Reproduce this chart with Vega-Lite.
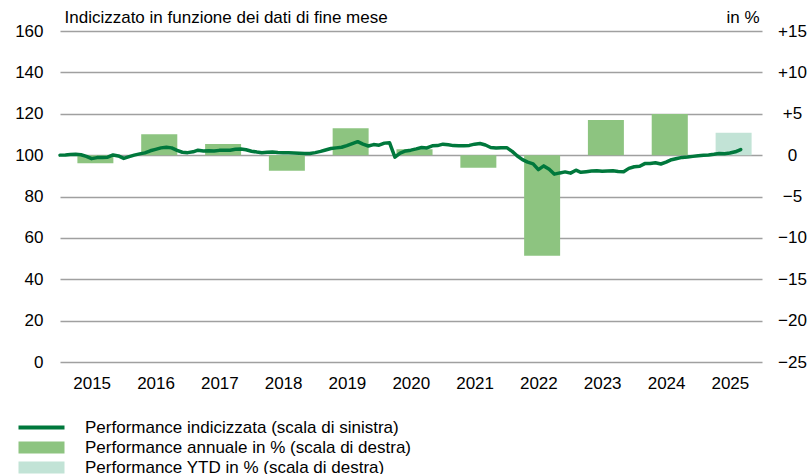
{
  "$schema": "https://vega.github.io/schema/vega-lite/v6.json",
  "autosize": {"type": "none"},
  "padding": {"left": 60, "top": 31, "right": 49, "bottom": 112},
  "width": 702,
  "height": 331,
  "background": "white",
  "config": {
    "view": {"stroke": null},
    "font": "Liberation Sans",
    "axis": {"labelFont": "Liberation Sans", "labelFontSize": 17, "labelColor": "#000", "titleFont": "Liberation Sans", "titleFontSize": 17, "titleFontWeight": "normal", "titleColor": "#000"}
  },
  "datasets": {
    "annual": [
      {"year": "2015-01-01", "perf": -0.99, "series": "Performance annuale in % (scala di destra)"},
      {"year": "2016-01-01", "perf": 2.52, "series": "Performance annuale in % (scala di destra)"},
      {"year": "2017-01-01", "perf": 1.34, "series": "Performance annuale in % (scala di destra)"},
      {"year": "2018-01-01", "perf": -1.88, "series": "Performance annuale in % (scala di destra)"},
      {"year": "2019-01-01", "perf": 3.24, "series": "Performance annuale in % (scala di destra)"},
      {"year": "2020-01-01", "perf": 0.7, "series": "Performance annuale in % (scala di destra)"},
      {"year": "2021-01-01", "perf": -1.52, "series": "Performance annuale in % (scala di destra)"},
      {"year": "2022-01-01", "perf": -12.15, "series": "Performance annuale in % (scala di destra)"},
      {"year": "2023-01-01", "perf": 4.24, "series": "Performance annuale in % (scala di destra)"},
      {"year": "2024-01-01", "perf": 4.97, "series": "Performance annuale in % (scala di destra)"},
      {"year": "2025-01-01", "perf": 2.71, "series": "Performance YTD in % (scala di destra)"}
    ],
    "indexed": [
      {"date": "2015-01-01", "value": 100.0},
      {"date": "2015-02-01", "value": 100.1},
      {"date": "2015-03-01", "value": 100.3},
      {"date": "2015-04-01", "value": 100.4},
      {"date": "2015-05-01", "value": 100.2},
      {"date": "2015-06-01", "value": 99.4},
      {"date": "2015-07-01", "value": 98.3},
      {"date": "2015-08-01", "value": 98.8},
      {"date": "2015-09-01", "value": 98.9},
      {"date": "2015-10-01", "value": 99.0},
      {"date": "2015-11-01", "value": 100.1},
      {"date": "2015-12-01", "value": 99.6},
      {"date": "2016-01-01", "value": 98.4},
      {"date": "2016-02-01", "value": 99.3},
      {"date": "2016-03-01", "value": 100.0},
      {"date": "2016-04-01", "value": 100.6},
      {"date": "2016-05-01", "value": 101.1},
      {"date": "2016-06-01", "value": 102.1},
      {"date": "2016-07-01", "value": 102.8},
      {"date": "2016-08-01", "value": 103.5},
      {"date": "2016-09-01", "value": 103.8},
      {"date": "2016-10-01", "value": 103.5},
      {"date": "2016-11-01", "value": 102.3},
      {"date": "2016-12-01", "value": 101.4},
      {"date": "2017-01-01", "value": 101.2},
      {"date": "2017-02-01", "value": 101.6},
      {"date": "2017-03-01", "value": 102.4},
      {"date": "2017-04-01", "value": 102.0},
      {"date": "2017-05-01", "value": 102.1},
      {"date": "2017-06-01", "value": 102.0},
      {"date": "2017-07-01", "value": 102.3},
      {"date": "2017-08-01", "value": 102.4},
      {"date": "2017-09-01", "value": 102.4},
      {"date": "2017-10-01", "value": 102.8},
      {"date": "2017-11-01", "value": 103.0},
      {"date": "2017-12-01", "value": 102.6},
      {"date": "2018-01-01", "value": 101.9},
      {"date": "2018-02-01", "value": 101.5},
      {"date": "2018-03-01", "value": 101.2},
      {"date": "2018-04-01", "value": 101.4},
      {"date": "2018-05-01", "value": 101.5},
      {"date": "2018-06-01", "value": 101.3},
      {"date": "2018-07-01", "value": 101.2},
      {"date": "2018-08-01", "value": 101.1},
      {"date": "2018-09-01", "value": 101.0},
      {"date": "2018-10-01", "value": 100.9},
      {"date": "2018-11-01", "value": 100.8},
      {"date": "2018-12-01", "value": 100.8},
      {"date": "2019-01-01", "value": 101.2},
      {"date": "2019-02-01", "value": 101.8},
      {"date": "2019-03-01", "value": 102.5},
      {"date": "2019-04-01", "value": 103.2},
      {"date": "2019-05-01", "value": 103.5},
      {"date": "2019-06-01", "value": 103.8},
      {"date": "2019-07-01", "value": 104.6},
      {"date": "2019-08-01", "value": 105.6},
      {"date": "2019-09-01", "value": 106.5},
      {"date": "2019-10-01", "value": 105.3},
      {"date": "2019-11-01", "value": 104.4},
      {"date": "2019-12-01", "value": 105.1},
      {"date": "2020-01-01", "value": 104.8},
      {"date": "2020-02-01", "value": 105.8},
      {"date": "2020-03-01", "value": 106.0},
      {"date": "2020-04-01", "value": 99.0},
      {"date": "2020-05-01", "value": 101.0},
      {"date": "2020-06-01", "value": 102.0},
      {"date": "2020-07-01", "value": 102.4},
      {"date": "2020-08-01", "value": 103.0},
      {"date": "2020-09-01", "value": 103.7},
      {"date": "2020-10-01", "value": 103.5},
      {"date": "2020-11-01", "value": 104.5},
      {"date": "2020-12-01", "value": 104.6},
      {"date": "2021-01-01", "value": 105.3},
      {"date": "2021-02-01", "value": 105.0},
      {"date": "2021-03-01", "value": 104.6},
      {"date": "2021-04-01", "value": 104.5},
      {"date": "2021-05-01", "value": 104.5},
      {"date": "2021-06-01", "value": 104.7},
      {"date": "2021-07-01", "value": 105.3},
      {"date": "2021-08-01", "value": 105.6},
      {"date": "2021-09-01", "value": 104.9},
      {"date": "2021-10-01", "value": 103.7},
      {"date": "2021-11-01", "value": 103.4},
      {"date": "2021-12-01", "value": 103.6},
      {"date": "2022-01-01", "value": 103.6},
      {"date": "2022-02-01", "value": 101.8},
      {"date": "2022-03-01", "value": 99.7},
      {"date": "2022-04-01", "value": 97.8},
      {"date": "2022-05-01", "value": 96.6},
      {"date": "2022-06-01", "value": 95.8},
      {"date": "2022-07-01", "value": 93.0},
      {"date": "2022-08-01", "value": 94.8},
      {"date": "2022-09-01", "value": 93.2},
      {"date": "2022-10-01", "value": 90.8},
      {"date": "2022-11-01", "value": 91.4},
      {"date": "2022-12-01", "value": 91.9},
      {"date": "2023-01-01", "value": 91.3},
      {"date": "2023-02-01", "value": 92.7},
      {"date": "2023-03-01", "value": 91.7},
      {"date": "2023-04-01", "value": 92.0},
      {"date": "2023-05-01", "value": 92.3},
      {"date": "2023-06-01", "value": 92.4},
      {"date": "2023-07-01", "value": 92.2},
      {"date": "2023-08-01", "value": 92.3},
      {"date": "2023-09-01", "value": 92.4},
      {"date": "2023-10-01", "value": 92.1},
      {"date": "2023-11-01", "value": 92.0},
      {"date": "2023-12-01", "value": 93.6},
      {"date": "2024-01-01", "value": 94.4},
      {"date": "2024-02-01", "value": 94.6},
      {"date": "2024-03-01", "value": 95.9},
      {"date": "2024-04-01", "value": 96.0},
      {"date": "2024-05-01", "value": 96.3},
      {"date": "2024-06-01", "value": 95.7},
      {"date": "2024-07-01", "value": 96.6},
      {"date": "2024-08-01", "value": 97.8},
      {"date": "2024-09-01", "value": 98.4},
      {"date": "2024-10-01", "value": 98.9},
      {"date": "2024-11-01", "value": 99.1},
      {"date": "2024-12-01", "value": 99.4},
      {"date": "2025-01-01", "value": 99.7},
      {"date": "2025-02-01", "value": 99.9},
      {"date": "2025-03-01", "value": 100.1},
      {"date": "2025-04-01", "value": 100.4},
      {"date": "2025-05-01", "value": 100.8},
      {"date": "2025-06-01", "value": 100.7},
      {"date": "2025-07-01", "value": 101.0},
      {"date": "2025-08-01", "value": 101.6},
      {"date": "2025-09-01", "value": 102.7}
    ]
  },
  "layer": [
    {
      "data": {"name": "annual"},
      "mark": {"type": "bar", "width": {"band": 0.58}, "xOffset": 3},
      "encoding": {
        "x": {
          "field": "year", "timeUnit": "utcyear", "type": "temporal",
          "scale": {"type": "utc", "domain": [{"year": 2015, "month": 1, "date": 1, "utc": true}, {"year": 2026, "month": 1, "date": 1, "utc": true}]},
          "axis": {
            "title": null, "domain": false, "ticks": false, "grid": false,
            "values": [
              {"year": 2015, "month": 7, "date": 1, "utc": true},
              {"year": 2016, "month": 7, "date": 1, "utc": true},
              {"year": 2017, "month": 7, "date": 1, "utc": true},
              {"year": 2018, "month": 7, "date": 1, "utc": true},
              {"year": 2019, "month": 7, "date": 1, "utc": true},
              {"year": 2020, "month": 7, "date": 1, "utc": true},
              {"year": 2021, "month": 7, "date": 1, "utc": true},
              {"year": 2022, "month": 7, "date": 1, "utc": true},
              {"year": 2023, "month": 7, "date": 1, "utc": true},
              {"year": 2024, "month": 7, "date": 1, "utc": true},
              {"year": 2025, "month": 7, "date": 1, "utc": true}
            ],
            "format": "%Y", "formatType": "utc", "labelBaseline": "middle", "labelPadding": 21
          }
        },
        "y": {
          "field": "perf", "type": "quantitative",
          "scale": {"domain": [-25, 15], "nice": false, "zero": false},
          "axis": {
            "orient": "right", "values": [-25, -20, -15, -10, -5, 0, 5, 10, 15],
            "labelExpr": "datum.value > 0 ? '+' + datum.label : datum.label",
            "domain": false, "ticks": false, "tickSize": 0, "grid": false,
            "labelAlign": "center", "labelPadding": 30,
            "title": "in %", "titleAngle": 0, "titleAlign": "right", "titleBaseline": "middle", "titleX": -3, "titleY": -14
          }
        },
        "y2": {"datum": 0},
        "color": {
          "field": "series", "type": "nominal",
          "scale": {
            "domain": ["Performance indicizzata (scala di sinistra)", "Performance annuale in % (scala di destra)", "Performance YTD in % (scala di destra)"],
            "range": ["#00783c", "#8dc480", "#c2e3d6"]
          },
          "legend": {
            "orient": "none", "legendX": -27, "legendY": 388, "title": null, "direction": "vertical", "padding": 0,
            "symbolSize": 100, "labelOffset": 35, "labelFontSize": 17, "labelFont": "Liberation Sans", "labelColor": "#000",
            "rowPadding": 2, "labelLimit": 600,
            "encode": {
              "symbols": {
                "update": {
                  "shape": {"signal": "datum.value === 'Performance indicizzata (scala di sinistra)' ? 'M-4.6,-0.4H4.6V0.4H-4.6Z' : 'M-4.6,-1.2H4.6V1.2H-4.6Z'"},
                  "fill": {"scale": "color", "field": "value"},
                  "stroke": {"value": "transparent"},
                  "strokeWidth": {"value": 0},
                  "opacity": {"value": 1},
                  "fillOpacity": {"value": 1}
                }
              }
            }
          }
        }
      }
    },
    {
      "data": {"name": "indexed"},
      "mark": {"type": "line", "strokeWidth": 3.5, "strokeJoin": "round", "strokeCap": "round"},
      "encoding": {
        "x": {"field": "date", "type": "temporal"},
        "y": {
          "field": "value", "type": "quantitative",
          "scale": {"domain": [0, 160], "nice": false},
          "axis": {
            "orient": "left", "values": [0, 20, 40, 60, 80, 100, 120, 140, 160],
            "domain": false, "ticks": false, "grid": true, "gridColor": "#a0a0a0", "gridWidth": 1.5,
            "labelPadding": 17,
            "title": "Indicizzato in funzione dei dati di fine mese", "titleAngle": 0, "titleAlign": "left", "titleBaseline": "middle", "titleX": 4, "titleY": -14
          }
        },
        "color": {"datum": "Performance indicizzata (scala di sinistra)"}
      }
    }
  ],
  "resolve": {"scale": {"y": "independent"}, "axis": {"y": "independent"}}
}
